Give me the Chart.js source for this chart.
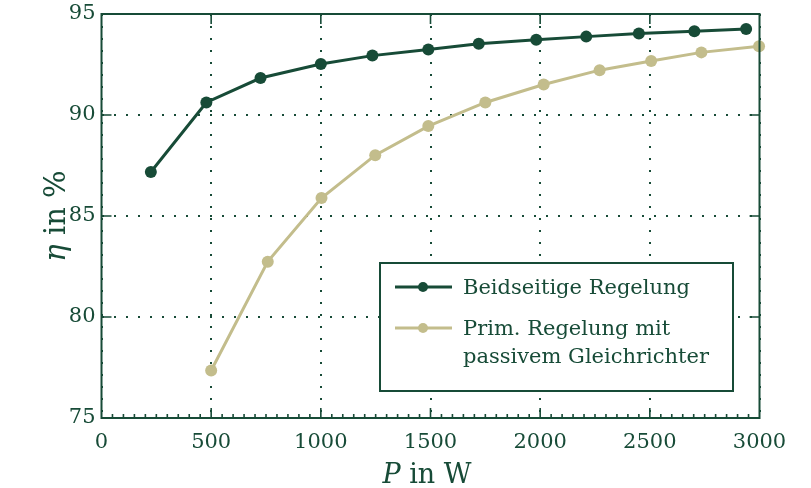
<!DOCTYPE html>
<html>
<head>
<meta charset="utf-8">
<script src="https://cdn.jsdelivr.net/npm/chart.js@4/dist/chart.umd.min.js"></script>
<style>
  html, body { margin: 0; padding: 0; background: #fff; }
  #wrap { width: 811px; height: 488px; }
</style>
</head>
<body>
<div id="wrap"><canvas id="effChart" width="811" height="488"></canvas></div>
<script>
// Efficiency vs. power: two control strategies.
const DARK = '#174b37';
const LIGHT = '#c3bd8c';

const beidseitigP   = [225, 478, 725, 1000, 1235, 1490, 1720, 1982, 2210, 2450, 2703, 2939];
const beidseitigEta = [87.18, 90.62, 91.83, 92.52, 92.94, 93.24, 93.53, 93.73, 93.88, 94.03, 94.15, 94.26];

const primP   = [500, 758, 1003, 1248, 1490, 1750, 2016, 2271, 2506, 2735, 2998];
const primEta = [77.35, 82.74, 85.89, 88.01, 89.45, 90.62, 91.51, 92.22, 92.67, 93.10, 93.40];

const seriesLabels = [['Beidseitige Regelung'], ['Prim. Regelung mit', 'passivem Gleichrichter']];
const xTicks = [0, 500, 1000, 1500, 2000, 2500, 3000];
const yTicks = [75, 80, 85, 90, 95];

const toPoints = (xs, ys) => xs.map((x, i) => ({ x: x, y: ys[i] }));

Chart.defaults.font.family = "'DejaVu Serif', serif";
Chart.defaults.color = DARK;

// box, inward ticks, legend and axis titles
const frame = {
  id: 'frame',
  afterDraw(chart) {
    const { ctx, chartArea: a, scales: { x, y } } = chart;
    ctx.save();
    ctx.strokeStyle = DARK;
    ctx.lineWidth = 2;
    ctx.strokeRect(a.left, a.top, a.right - a.left, a.bottom - a.top);

    // major ticks
    ctx.lineWidth = 1.6;
    ctx.beginPath();
    xTicks.slice(1, -1).forEach(v => {
      const px = x.getPixelForValue(v);
      ctx.moveTo(px, a.bottom); ctx.lineTo(px, a.bottom - 10);
      ctx.moveTo(px, a.top); ctx.lineTo(px, a.top + 10);
    });
    yTicks.slice(1, -1).forEach(v => {
      const py = y.getPixelForValue(v);
      ctx.moveTo(a.left, py); ctx.lineTo(a.left + 10, py);
      ctx.moveTo(a.right, py); ctx.lineTo(a.right - 10, py);
    });
    // minor ticks on the bottom, every 50 W
    for (let v = 50; v < 3000; v += 50) {
      if (v % 500 === 0) continue;
      const px = x.getPixelForValue(v);
      ctx.moveTo(px, a.bottom); ctx.lineTo(px, a.bottom - 4);
    }
    ctx.stroke();

    // legend
    const lx = 380, ly = 263, lw = 353, lh = 128;
    ctx.fillStyle = '#fff';
    ctx.fillRect(lx, ly, lw, lh);
    ctx.lineWidth = 2;
    ctx.strokeRect(lx, ly, lw, lh);
    const rows = [287, 328];
    const baselines = [[294], [335, 363]];
    chart.data.datasets.forEach((ds, i) => {
      ctx.strokeStyle = ds.borderColor;
      ctx.lineWidth = 3;
      ctx.beginPath();
      ctx.moveTo(395, rows[i]); ctx.lineTo(452, rows[i]);
      ctx.stroke();
      ctx.fillStyle = ds.borderColor;
      ctx.beginPath();
      ctx.arc(423, rows[i], 5, 0, Math.PI * 2);
      ctx.fill();
      ctx.fillStyle = DARK;
      ctx.font = "21px 'DejaVu Serif'";
      ctx.textAlign = 'left';
      ctx.textBaseline = 'alphabetic';
      seriesLabels[i].forEach((t, k) => ctx.fillText(t, 463, baselines[i][k]));
    });

    // axis titles
    ctx.fillStyle = DARK;
    ctx.textBaseline = 'alphabetic';
    ctx.textAlign = 'left';
    let it = "italic 27px 'DejaVu Serif'", rg = "27px 'DejaVu Serif'";
    ctx.font = it; const wP = ctx.measureText('P').width;
    ctx.font = rg; const wIn = ctx.measureText(' in W').width;
    let sx = 427 - (wP + wIn) / 2;
    ctx.font = it; ctx.fillText('P', sx, 483);
    ctx.font = rg; ctx.fillText(' in W', sx + wP, 483);

    it = "italic 29px 'DejaVu Serif'"; rg = "29px 'DejaVu Serif'";
    ctx.translate(65, 216);
    ctx.rotate(-Math.PI / 2);
    ctx.font = it; const wE = ctx.measureText('η').width;
    ctx.font = rg; const wR = ctx.measureText(' in %').width;
    sx = -(wE + wR) / 2;
    ctx.font = it; ctx.fillText('η', sx, 0);
    ctx.font = rg; ctx.fillText(' in %', sx + wE, 0);
    ctx.restore();
  }
};

new Chart(document.getElementById('effChart'), {
  type: 'line',
  data: {
    datasets: [
      {
        label: seriesLabels[0].join(' '),
        data: toPoints(beidseitigP, beidseitigEta),
        borderColor: DARK, backgroundColor: DARK,
        borderWidth: 3, pointRadius: 6, pointBorderWidth: 0,
        pointBackgroundColor: DARK, clip: false
      },
      {
        label: seriesLabels[1].join(' '),
        data: toPoints(primP, primEta),
        borderColor: LIGHT, backgroundColor: LIGHT,
        borderWidth: 3, pointRadius: 6, pointBorderWidth: 0,
        pointBackgroundColor: LIGHT, clip: false
      }
    ]
  },
  options: {
    responsive: false,
    animation: false,
    layout: { padding: { left: 0, top: 14, right: 51.5, bottom: 0 } },
    plugins: { legend: { display: false }, tooltip: { enabled: false } },
    scales: {
      x: {
        type: 'linear', min: 0, max: 3000,
        afterFit: s => { s.height = 70; s.paddingLeft = 0; s.paddingRight = 0; },
        afterBuildTicks: s => { s.ticks = xTicks.map(v => ({ value: v })); },
        ticks: { padding: 12, font: { size: 21 }, color: DARK, maxRotation: 0, callback: v => String(v) },
        grid: { color: DARK, lineWidth: 2, drawTicks: false },
        border: { display: false, dash: [2, 10] }
      },
      y: {
        min: 75, max: 95,
        afterFit: s => { s.width = 101.5; s.paddingTop = 0; s.paddingBottom = 0; },
        afterBuildTicks: s => { s.ticks = yTicks.map(v => ({ value: v })); },
        ticks: { padding: 6, font: { size: 21 }, color: DARK, callback: v => String(v) },
        grid: { color: DARK, lineWidth: 2, drawTicks: false },
        border: { display: false, dash: [2, 10] }
      }
    }
  },
  plugins: [frame]
});
</script>
</body>
</html>
